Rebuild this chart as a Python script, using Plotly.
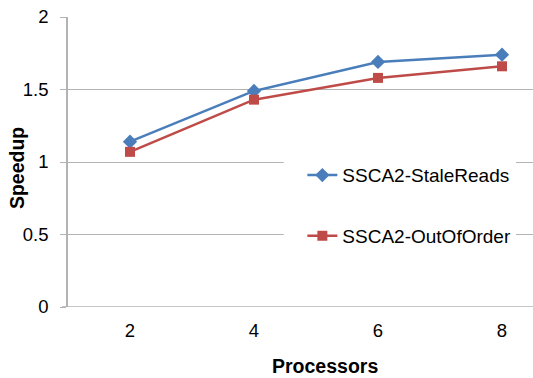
import plotly.graph_objects as go

processors = [2, 4, 6, 8]
stale_reads = [1.14, 1.49, 1.69, 1.74]
out_of_order = [1.07, 1.43, 1.58, 1.66]
y_ticks = [0, 0.5, 1, 1.5, 2]
y_tick_text = ["0", "0.5", "1", "1.5", "2"]

font = "Liberation Sans, Arial, sans-serif"
grid = "#B3B3B3"

fig = go.Figure()
fig.add_trace(go.Scatter(
    x=processors, y=stale_reads, name="SSCA2-StaleReads",
    mode="lines+markers", legendgroup="a",
    line=dict(color="#4A7EBB", width=2.5),
    marker=dict(symbol="diamond", size=11, color="#4A7EBB"),
))
fig.add_trace(go.Scatter(
    x=processors, y=out_of_order, name="SSCA2-OutOfOrder",
    mode="lines+markers", legendgroup="b",
    line=dict(color="#BE4B48", width=2.5),
    marker=dict(symbol="square", size=10, color="#BE4B48"),
))

fig.update_layout(
    width=533, height=378,
    margin=dict(l=68, r=0, t=17, b=71),
    paper_bgcolor="white", plot_bgcolor="white",
    font=dict(family=font, size=18.5, color="black"),
    showlegend=True,
    legend=dict(
        x=0.504, y=0.52, xanchor="left", yanchor="top",
        bgcolor="white", borderwidth=0,
        font=dict(family=font, size=19, color="black"),
        tracegroupgap=33, itemwidth=30,
    ),
    xaxis=dict(
        range=[1, 8.5], tickvals=processors, ticktext=[str(p) for p in processors],
        showgrid=False, zeroline=False, showline=False, ticks="",
        ticklabelstandoff=10,
    ),
    yaxis=dict(
        range=[0, 2], tickvals=y_ticks, ticktext=y_tick_text,
        showgrid=True, gridcolor=grid, gridwidth=1,
        zeroline=False, showline=True, linecolor=grid, linewidth=1.5,
        ticks="outside", ticklen=6, tickcolor=grid, ticklabelstandoff=8,
    ),
    annotations=[
        dict(text="<b>Processors</b>", xref="paper", yref="paper",
             x=0.5527, y=-0.205, xanchor="center", yanchor="middle",
             showarrow=False, font=dict(size=19.5)),
        dict(text="<b>Speedup</b>", xref="paper", yref="paper",
             x=-0.1097, y=0.479, xanchor="center", yanchor="middle",
             textangle=-90, showarrow=False, font=dict(size=19.5)),
    ],
)

# bottom baseline of the plot area
fig.add_shape(type="line", xref="paper", yref="y", x0=-0.013, x1=1, y0=0, y1=0,
              line=dict(color=grid, width=1.5), layer="below")
# white backing that extends the legend box to the left over the gridlines
fig.add_shape(type="rect", xref="x", yref="y", x0=4.48, x1=4.9, y0=0.3, y1=1.15,
              fillcolor="white", line=dict(width=0), layer="above")

fig.write_html("out.html")
